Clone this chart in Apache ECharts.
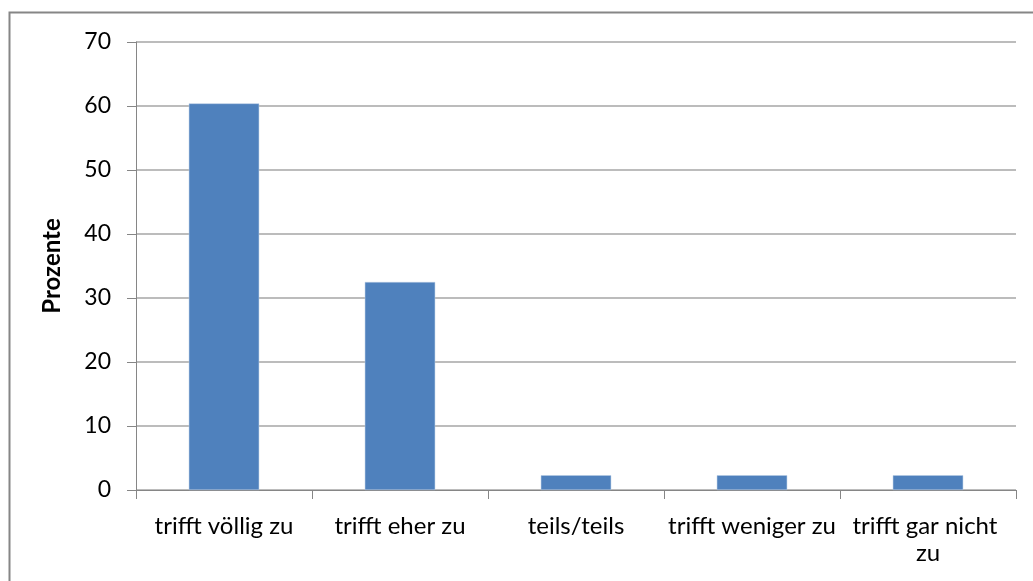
<!DOCTYPE html>
<html>
<head>
<meta charset="utf-8">
<script src="https://cdn.jsdelivr.net/npm/echarts@6/dist/echarts.min.js"></script>
<style>
  html, body { margin: 0; padding: 0; background: #ffffff; }
  #chart { width: 1033px; height: 581px; }
</style>
</head>
<body>
<div id="chart"></div>
<script>
// Antwortkategorien und Anteile in Prozent
const categories = ['trifft völlig zu', 'trifft eher zu', 'teils/teils', 'trifft weniger zu', 'trifft gar nicht zu'];
const values = [60.4, 32.5, 2.3, 2.3, 2.3];
const yTicks = [0, 10, 20, 30, 40, 50, 60, 70];

const FONT = 'Lato';
const chart = echarts.init(document.getElementById('chart'), null, { renderer: 'canvas' });

chart.setOption({
  animation: false,
  backgroundColor: '#ffffff',
  graphic: [{
    type: 'rect',
    shape: { x: 9.5, y: 12.5, width: 1100, height: 700 },
    style: { fill: 'none', stroke: '#868686', lineWidth: 2 },
    silent: true
  }],
  grid: { left: 136, right: 17, top: 42, bottom: 91, containLabel: false },
  xAxis: {
    type: 'category',
    data: categories,
    axisLine: { show: true, lineStyle: { color: '#868686', width: 1 } },
    axisTick: { show: true, length: 9, alignWithLabel: false, lineStyle: { color: '#868686' } },
    axisLabel: {
      interval: 0, margin: 23, color: '#000000', fontFamily: FONT, fontSize: 24,
      width: 170, overflow: 'break', lineHeight: 27
    }
  },
  yAxis: {
    type: 'value',
    min: yTicks[0],
    max: yTicks[yTicks.length - 1],
    interval: 10,
    name: 'Prozente',
    nameLocation: 'middle',
    nameGap: 72,
    nameRotate: 90,
    nameTextStyle: { fontFamily: FONT, fontSize: 24, fontWeight: 'bold', color: '#000000' },
    axisLine: { show: true, lineStyle: { color: '#868686', width: 1 } },
    axisTick: { show: true, length: 9, lineStyle: { color: '#868686' } },
    axisLabel: { margin: 25, color: '#000000', fontFamily: FONT, fontSize: 23 },
    splitLine: { show: true, lineStyle: { color: '#a6a6a6', width: 1.5 } }
  },
  series: [{
    type: 'bar',
    data: values,
    barWidth: '40%',
    itemStyle: { color: '#4f81bd', borderColor: '#b9cde5', borderWidth: 0.5 }
  }]
});
</script>
</body>
</html>
